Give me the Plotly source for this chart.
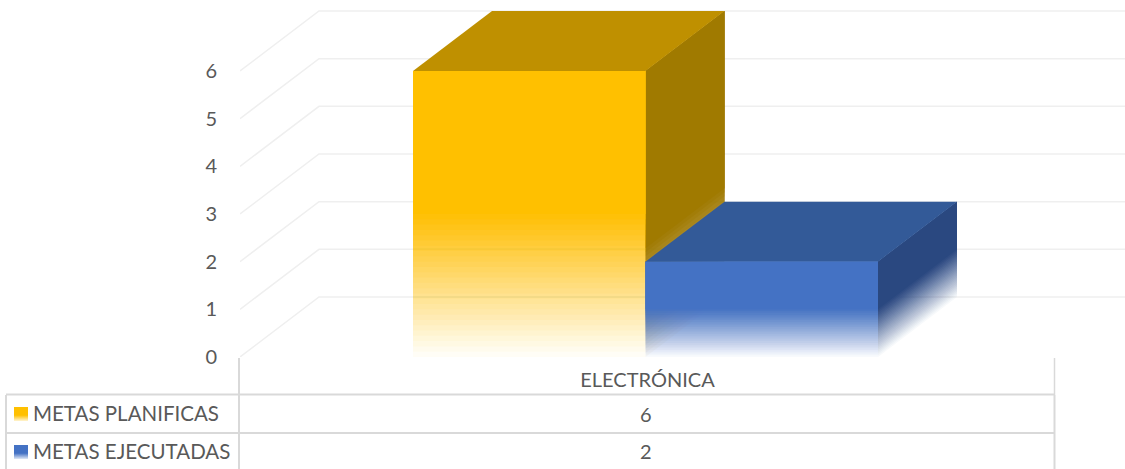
import plotly.graph_objects as go

categories = ["ELECTRÓNICA"]
series_names = ["METAS PLANIFICAS", "METAS EJECUTADAS"]
metas_planificas = [6]
metas_ejecutadas = [2]
y_ticks = [0, 1, 2, 3, 4, 5, 6]

# axis scaling (pixels of the page)
FIG_W, FIG_H = 1125, 469
PLOT_L, PLOT_BOTTOM = 240, 357
CAT_PX = 815          # width of the single category band
UNIT_PX = 47.67       # height of one value unit
DEPTH_X = 79 / CAT_PX
DEPTH_Y = 60 / UNIT_PX
BAR_W = 232.5 / CAT_PX
BAR_START = 173 / CAT_PX
LAYERS = 28

GRID = "#EFEFEF"
TABLE = "#D9D9D9"
TEXT = "#595959"
FONT = "Lato"

styles = [
    dict(front=(255, 192, 0), side=(160, 122, 0), top="#BF9000", front_fade=0.5, side_fade=0.38),
    dict(front=(68, 114, 196), side=(42, 72, 128), top="#335A98", front_fade=0.5, side_fade=0.5),
]

fig = go.Figure()


def poly(xs, ys, color):
    fig.add_trace(go.Scatter(
        x=list(xs) + [xs[0]], y=list(ys) + [ys[0]], mode="lines", fill="toself",
        fillcolor=color, line=dict(width=0), hoverinfo="skip", showlegend=False))


def faded(xs_fn, value, rgb, fade):
    """Nested translucent layers: they add up to a smooth fade towards zero."""
    fade_top = value * fade
    for k in range(1, LAYERS + 1):
        alpha = 1 / (LAYERS - k + 1)
        low = fade_top * (k - 1) / (LAYERS - 1)
        xs, ys = xs_fn(low, value)
        poly(xs, ys, f"rgba({rgb[0]},{rgb[1]},{rgb[2]},{alpha:.4f})")


# gridlines: floor-to-wall diagonal, then along the back wall
for v in y_ticks:
    fig.add_trace(go.Scatter(
        x=[0, DEPTH_X, 885 / CAT_PX], y=[v, v + DEPTH_Y, v + DEPTH_Y], mode="lines",
        line=dict(color=GRID, width=1.5), hoverinfo="skip", showlegend=False))

for i, (values, st) in enumerate(zip([metas_planificas, metas_ejecutadas], styles)):
    value = values[0]
    x0 = BAR_START + i * BAR_W
    x1 = x0 + BAR_W

    def side(low, top, x1=x1):
        return ([x1, x1 + DEPTH_X, x1 + DEPTH_X, x1],
                [low, low + DEPTH_Y, top + DEPTH_Y, top])

    def front(low, top, x0=x0, x1=x1):
        return ([x0, x1, x1, x0], [low, low, top, top])

    faded(side, value, st["side"], st["side_fade"])
    poly([x0, x1, x1 + DEPTH_X, x0 + DEPTH_X],
         [value, value, value + DEPTH_Y, value + DEPTH_Y], st["top"])
    faded(front, value, st["front"], st["front_fade"])

shapes = []


def line(x0, y0, x1, y1, w=2):
    shapes.append(dict(type="line", xref="paper", yref="paper", layer="below",
                       x0=(x0 - PLOT_L) / (FIG_W - PLOT_L), x1=(x1 - PLOT_L) / (FIG_W - PLOT_L),
                       y0=(PLOT_BOTTOM - y0) / PLOT_BOTTOM, y1=(PLOT_BOTTOM - y1) / PLOT_BOTTOM,
                       line=dict(color=TABLE, width=w)))


line(239, 358, 239, 469)
line(1054.5, 358, 1054.5, 395, 1.5)
line(1054.5, 395, 1054.5, 469)
line(6, 394.5, 1055, 394.5)
line(6, 433, 1055, 433)
line(6, 395, 6, 469)


def key(y, rgb):
    rows = 14
    for r in range(rows):
        a = 1 if r < rows * 0.55 else 1 - (r - rows * 0.55) / (rows * 0.5)
        shapes.append(dict(type="rect", xref="paper", yref="paper", layer="above",
                           x0=(14 - PLOT_L) / (FIG_W - PLOT_L), x1=(28 - PLOT_L) / (FIG_W - PLOT_L),
                           y0=(PLOT_BOTTOM - (y + r)) / PLOT_BOTTOM,
                           y1=(PLOT_BOTTOM - (y + r + 1)) / PLOT_BOTTOM,
                           line=dict(width=0),
                           fillcolor=f"rgba({rgb[0]},{rgb[1]},{rgb[2]},{a:.3f})"))


key(407, styles[0]["front"])
key(445, styles[1]["front"])

annotations = []


def label(px, py, text, anchor, size=20):
    annotations.append(dict(
        xref="paper", yref="paper", showarrow=False, text=text, xanchor=anchor, yanchor="middle",
        x=(px - PLOT_L) / (FIG_W - PLOT_L), y=(PLOT_BOTTOM - py) / PLOT_BOTTOM,
        xshift=0, yshift=0, font=dict(family=FONT, size=size, color=TEXT)))


label(31, 413, series_names[0], "left", 20.5)
label(31, 451, series_names[1], "left", 20.5)
label(646, 414, str(metas_planificas[0]), "center")
label(646, 451, str(metas_ejecutadas[0]), "center")

fig.update_layout(
    width=FIG_W, height=FIG_H, autosize=False,
    margin=dict(l=PLOT_L, r=0, t=0, b=FIG_H - PLOT_BOTTOM, pad=0),
    plot_bgcolor="white", paper_bgcolor="white",
    showlegend=False, shapes=shapes, annotations=annotations,
    xaxis=dict(range=[0, (FIG_W - PLOT_L) / CAT_PX], showgrid=False, zeroline=False, showline=False,
               tickmode="array", tickvals=[0.5], ticktext=categories, ticks="",
               ticklabelstandoff=9, tickfont=dict(family=FONT, size=20, color=TEXT)),
    yaxis=dict(range=[0, PLOT_BOTTOM / UNIT_PX], showgrid=False, zeroline=False, showline=False,
               tickmode="array", tickvals=y_ticks, ticktext=[str(t) for t in y_ticks], ticks="",
               ticklabelstandoff=22, tickfont=dict(family=FONT, size=20, color=TEXT)),
)

fig.write_html("out.html", config=dict(displayModeBar=False),
               post_script="document.body.style.margin='0';document.body.style.overflow='hidden';")
